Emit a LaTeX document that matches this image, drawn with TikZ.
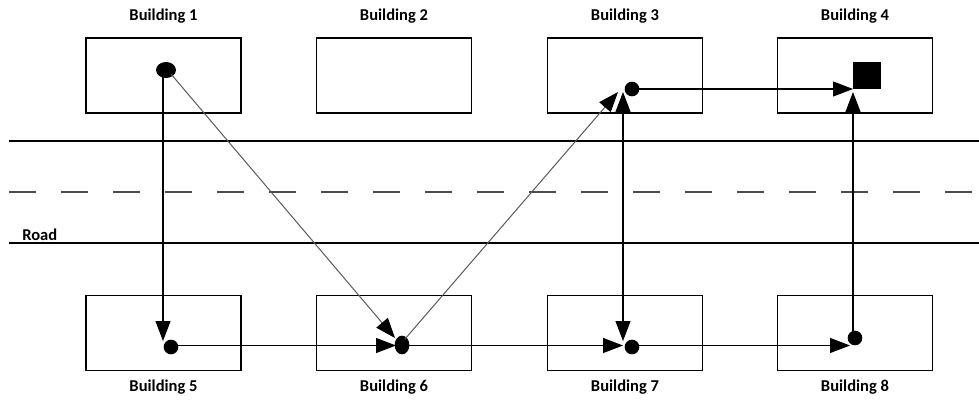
\documentclass[tikz,border=0pt]{standalone}
\usepackage{fontspec}
\setmainfont{Carlito}
\usetikzlibrary{arrows.meta,shapes.geometric}
\begin{document}
\begin{tikzpicture}[x=0.75pt,y=-0.75pt,
  bldg/.style={draw=black,line width=0.9pt,minimum width=116.25pt,minimum height=56.25pt,inner sep=0pt},
  lbl/.style={font=\fontsize{12.4}{14}\selectfont\bfseries,inner sep=0pt},
  dot/.style={fill=black,circle,inner sep=0pt,minimum size=11pt},
  road/.style={line width=0.8pt,black},
  conn/.style={line width=0.8pt,black,-{Triangle[length=15pt,width=11.25pt]}},
  gconn/.style={line width=0.75pt,black!65,-{Triangle[length=15pt,width=11.25pt,color=black]}}]
\useasboundingbox (0,0) rectangle (979,400);
% road
\draw[road] (9,141) -- (979,141);
\draw[road] (9,243) -- (979,243);
\draw[line width=0.8pt,black!70,dash pattern=on 20.25pt off 18.75pt] (9,192) -- (979,192);
\node[lbl,anchor=west] (road) at (22,235) {Road};
% buildings
\node[bldg] (b1) at (163.5,75.5) {};
\node[bldg] (b2) at (394,75.5) {};
\node[bldg] (b3) at (625,75.5) {};
\node[bldg] (b4) at (855,75.5) {};
\node[bldg] (b5) at (163.5,333) {};
\node[bldg] (b6) at (394,333) {};
\node[bldg] (b7) at (625,333) {};
\node[bldg] (b8) at (855,333) {};
\node[lbl] (l1) at (163.5,16) {Building 1};
\node[lbl] (l2) at (394,16) {Building 2};
\node[lbl] (l3) at (625,16) {Building 3};
\node[lbl] (l4) at (855,16) {Building 4};
\node[lbl] (l5) at (163.5,387) {Building 5};
\node[lbl] (l6) at (394,387) {Building 6};
\node[lbl] (l7) at (625,387) {Building 7};
\node[lbl] (l8) at (855,387) {Building 8};
% dots
\node[fill=black,ellipse,inner sep=0pt,minimum width=15pt,minimum height=12pt] (d1) at (166,70) {};
\node[dot] (d3) at (632,89) {};
\node[fill=black,inner sep=0pt,minimum size=20.5pt] (sq) at (867,75.5) {};
\node[dot] (d5) at (171,347) {};
\node[fill=black,ellipse,inner sep=0pt,minimum width=11pt,minimum height=14pt] (d6) at (402,345) {};
\node[dot] (d7) at (632,347) {};
\node[dot] (d8) at (855,338) {};
% connector end points
\coordinate (s1v) at (163,75);
\coordinate (e5) at (163,341);
\coordinate (s1d) at (171,74);
\coordinate (e6d) at (395,338);
\coordinate (s5) at (176,345.5);
\coordinate (e6h) at (396,345.5);
\coordinate (s6d) at (405,339);
\coordinate (e3d) at (618,92);
\coordinate (s6h) at (408,345.5);
\coordinate (e7h) at (623,345.5);
\coordinate (v3) at (623,92);
\coordinate (v7) at (623,341);
\coordinate (s3) at (636,89);
\coordinate (e4h) at (853,89);
\coordinate (s7) at (637,345.5);
\coordinate (e8h) at (850,345.5);
\coordinate (s8) at (853,336);
\coordinate (e4v) at (853,92);
% connectors
\draw[conn] (s1v) -- (e5);
\draw[gconn] (s1d) -- (e6d);
\draw[conn] (s5) -- (e6h);
\draw[gconn] (s6d) -- (e3d);
\draw[conn] (s6h) -- (e7h);
\draw[line width=0.8pt,black,{Triangle[length=15pt,width=11.25pt]}-{Triangle[length=15pt,width=11.25pt]}] (v3) -- (v7);
\draw[conn] (s3) -- (e4h);
\draw[conn] (s7) -- (e8h);
\draw[conn] (s8) -- (e4v);
\end{tikzpicture}
\end{document}
